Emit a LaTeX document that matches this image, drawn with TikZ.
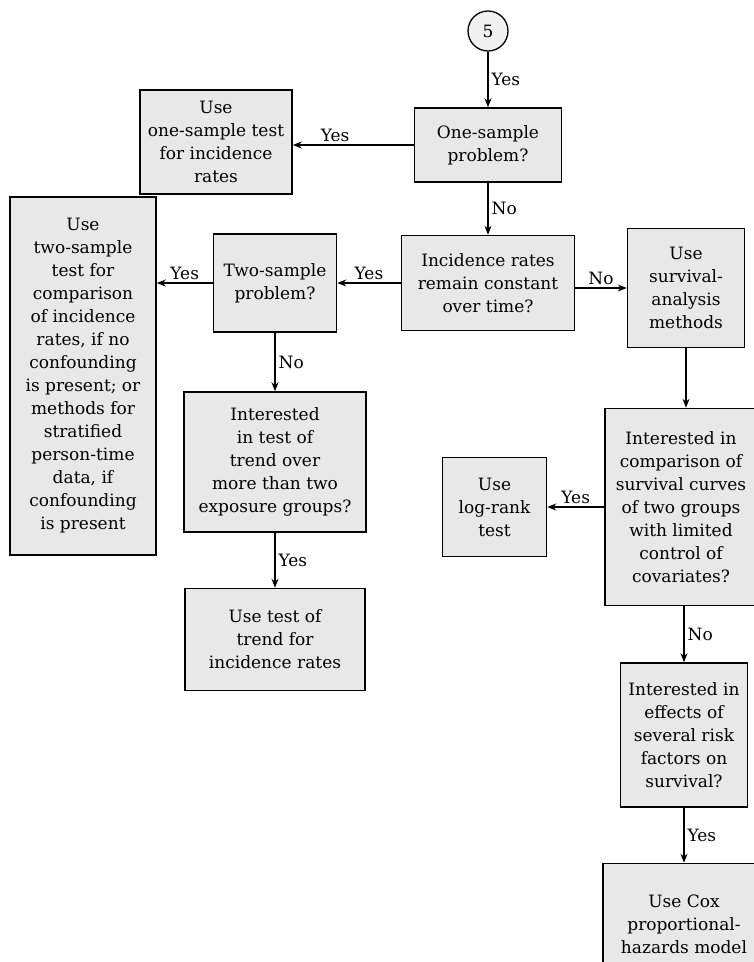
\documentclass[tikz,border=0pt]{standalone}
\usepackage{fontspec}
\setmainfont{DejaVu Serif}
\usetikzlibrary{arrows.meta,positioning}

\newcommand{\boxfont}{\fontsize{17}{23}\selectfont}

\begin{document}
\begin{tikzpicture}[
      x=1pt, y=-1pt,
      mybox/.style={
         rectangle,
         draw=black,
         line width=1.5pt,
         fill=black!9,
         % fill=gray,
         align=center,
         inner sep=2pt,
         font=\boxfont},
      mycircle/.style={
         circle,
         draw=black,
         line width=1.3pt,
         fill=black!6,
         inner sep=0pt,
         minimum size=40pt,
         font=\boxfont},
      myarrow/.style={-{Stealth[length=9pt,width=7pt]}, line width=1.3pt},
      mylabel/.style={inner sep=3pt, font=\boxfont}
      ]
\useasboundingbox (0,0) rectangle (754,962);

\node[mycircle] (c5) at (488,31) {5};

% main column
\node[mybox,minimum width=147pt,minimum height=74pt] (one) at (488,145) {One-sample\\problem?};
\node[mybox,minimum width=173pt,minimum height=95pt] (const) at (488,283) {Incidence rates\\remain constant\\over time?};
\node[mybox,minimum width=152pt,minimum height=104pt] (useone) at (216,142) {Use\\one-sample test\\for incidence\\rates};

% constant rates
\node[mybox,minimum width=123pt,minimum height=98pt] (two) at (275,283) {Two-sample\\problem?};
\node[mybox,minimum width=146pt,minimum height=358pt] (usetwo) at (83,376) {Use\\two-sample\\test for\\comparison\\of incidence\\rates, if no\\confounding\\is present; or\\methods for\\stratified\\person-time\\data, if\\confounding\\is present};
\node[mybox,minimum width=182pt,minimum height=140pt] (trend) at (275,462) {Interested\\in test of\\trend over\\more than two\\exposure groups?};
\node[mybox,minimum width=180pt,minimum height=102pt,below=55pt of trend] (usetrend) {Use test of\\trend for\\incidence rates};

% survival analysis
\node[mybox,minimum width=117pt,minimum height=119pt] (surv) at (686,288) {Use\\survival-\\analysis\\methods};
\node[mybox,minimum width=152pt,minimum height=197pt] (curves) at (681,507) {Interested in\\comparison of\\survival curves\\of two groups\\with limited\\control of\\covariates?};
\node[mybox,minimum width=104pt,minimum height=99pt,left=57pt of curves] (logrank) {Use\\log-rank\\test};
\node[mybox,minimum width=127pt,minimum height=144pt] (risk) at (684,735) {Interested in\\effects of\\several risk\\factors on\\survival?};
\node[mybox,minimum width=162pt,minimum height=122pt,below=55pt of risk] (cox) {Use Cox\\proportional-\\hazards model};

\foreach \i/\j/\t/\p in {% start node/end node/label/side
      c5/one/Yes/right,
      one/const/No/right,
      const/two/Yes/above,
      two/trend/No/right,
      trend/usetrend/Yes/right,
      curves/logrank/Yes/above,
      risk/cox/Yes/right}
       \draw[myarrow] (\i) -- node[mylabel,\p] (l-\i) {\t} (\j);

\draw[myarrow] (one.west) -- node[mylabel,above,pos=0.65] (l-one-yes) {Yes} (one.west -| useone.east);
\draw[myarrow] (two.west) -- node[mylabel,above] (l-two-yes) {Yes} (two.west -| usetwo.east);
\draw[myarrow] (const.east |- surv.west) -- node[mylabel,above] (l-const-no) {No} (surv.west);
\draw[myarrow] (surv.south) -- (surv.south |- curves.north);
\draw[myarrow] (curves.south -| risk.north) -- node[mylabel,right] (l-curves-no) {No} (risk.north);

\end{tikzpicture}
\end{document}
